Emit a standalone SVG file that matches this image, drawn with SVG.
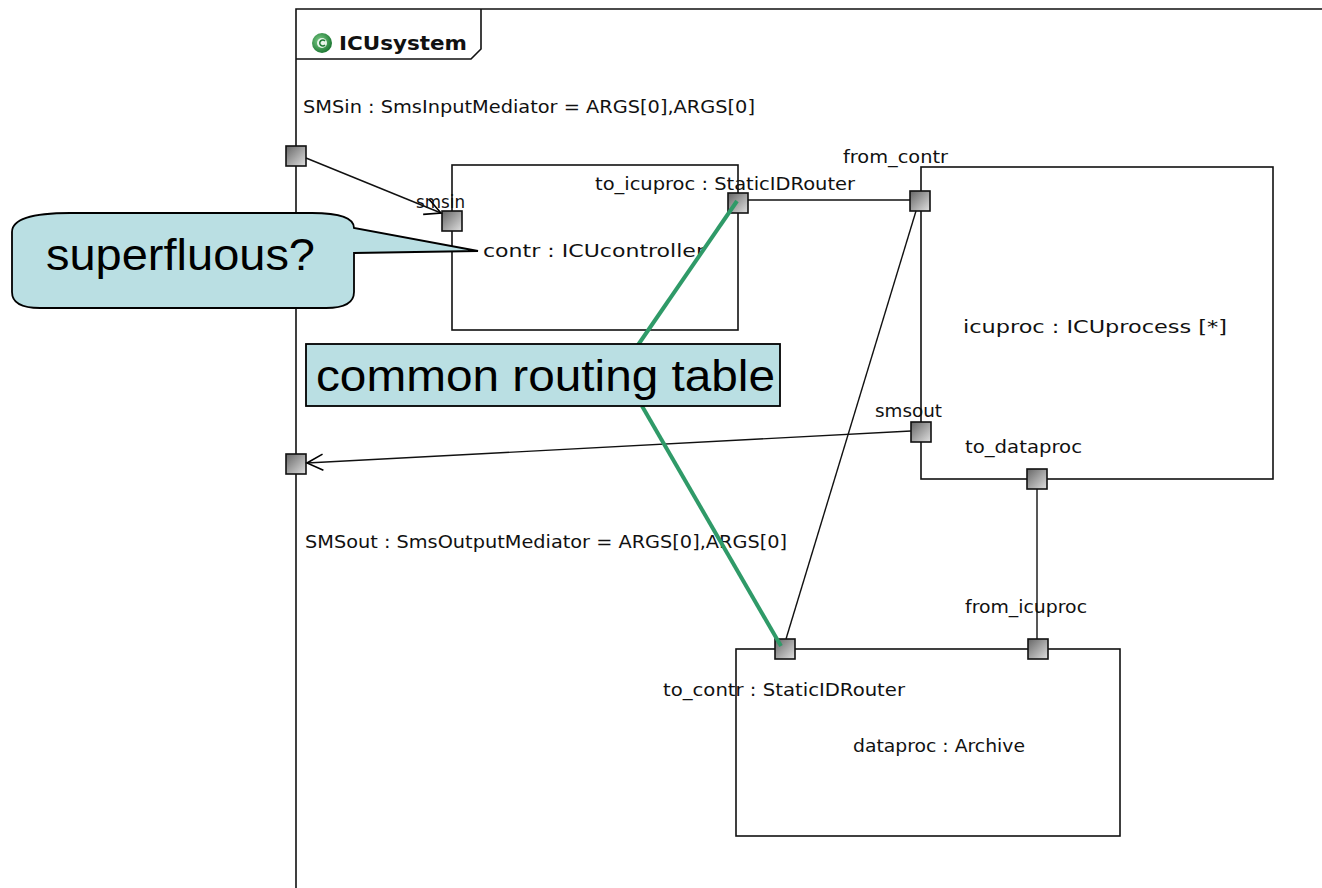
<svg xmlns="http://www.w3.org/2000/svg" width="1322" height="888" viewBox="0 0 1322 888">
<defs>
<linearGradient id="pg" x1="0" y1="0" x2="1" y2="1">
<stop offset="0" stop-color="#666"/>
<stop offset="1" stop-color="#e0e0e0"/>
</linearGradient>
<radialGradient id="ig" cx="0.4" cy="0.4" r="0.6">
<stop offset="0" stop-color="#7fcf8a"/>
<stop offset="1" stop-color="#1f7a35"/>
</radialGradient>
<marker id="open" viewBox="0 0 20 20" refX="18" refY="10" markerWidth="20" markerHeight="20" markerUnits="userSpaceOnUse" orient="auto">
<path d="M2,2 L18,10 L2,18" fill="none" stroke="#000" stroke-width="1.6"/>
</marker>
<style>
.lbl{font-family:"DejaVu Sans","Liberation Sans",sans-serif;font-size:18px;fill:#111}
.box{fill:none;stroke:#111;stroke-width:1.6}
.port{fill:url(#pg);stroke:#111;stroke-width:1.6}
.con{fill:none;stroke:#111;stroke-width:1.4}
.green{fill:none;stroke:#2f9a68;stroke-width:4}
.note{fill:#badfe3;stroke:#000;stroke-width:1.8}
.big{font-family:"Liberation Sans",Arial,sans-serif;font-size:44px;fill:#000}
</style>
</defs>
<rect width="1322" height="888" fill="#fff"/>

<g id="frame">
<path d="M296,888 L296,9 L1322,9" class="box" stroke-width="2"/>
<path d="M296,59 L471,59 L481,49 L481,9" class="box"/>
<circle cx="322" cy="43" r="10" fill="url(#ig)"/>
<circle cx="322" cy="43" r="5" fill="#e8f5ea"/>
<path d="M325,41 A3,3 0 1 0 325,45" fill="none" stroke="#1f7a35" stroke-width="1.5"/>
<text x="339" y="50" font-family="DejaVu Sans,Verdana,sans-serif" font-size="19" font-weight="bold" fill="#111" textLength="128" lengthAdjust="spacingAndGlyphs">ICUsystem</text>
<text class="lbl" x="303" y="113" textLength="452" lengthAdjust="spacingAndGlyphs">SMSin : SmsInputMediator = ARGS[0],ARGS[0]</text>
<text class="lbl" x="305" y="548" textLength="482" lengthAdjust="spacingAndGlyphs">SMSout : SmsOutputMediator = ARGS[0],ARGS[0]</text>
<rect id="SMSin" class="port" x="286" y="146" width="20" height="20"/>
<rect id="SMSout" class="port" x="286" y="454" width="20" height="20"/>
</g>

<g id="contr">
<rect class="box" x="452" y="165" width="286" height="165"/>
<text class="lbl" x="483" y="257" textLength="222" lengthAdjust="spacingAndGlyphs">contr : ICUcontroller</text>
<text class="lbl" x="416" y="208" textLength="49" lengthAdjust="spacingAndGlyphs">smsin</text>
<rect class="port" x="442" y="211" width="20" height="20"/>
<text class="lbl" x="595" y="190" textLength="260" lengthAdjust="spacingAndGlyphs">to_icuproc : StaticIDRouter</text>
<rect class="port" x="728" y="193" width="20" height="20"/>
</g>

<g id="icuproc">
<rect class="box" x="921" y="167" width="352" height="312"/>
<text class="lbl" x="963" y="333" textLength="264" lengthAdjust="spacingAndGlyphs">icuproc : ICUprocess [*]</text>
<text class="lbl" x="843" y="163" textLength="105" lengthAdjust="spacingAndGlyphs">from_contr</text>
<rect class="port" x="910" y="191" width="20" height="20"/>
<text class="lbl" x="875" y="417" textLength="67" lengthAdjust="spacingAndGlyphs">smsout</text>
<rect class="port" x="911" y="422" width="20" height="20"/>
<text class="lbl" x="965" y="453" textLength="117" lengthAdjust="spacingAndGlyphs">to_dataproc</text>
<rect class="port" x="1027" y="469" width="20" height="20"/>
</g>

<g id="dataproc">
<rect class="box" x="736" y="649" width="384" height="187"/>
<text class="lbl" x="853" y="752" textLength="172" lengthAdjust="spacingAndGlyphs">dataproc : Archive</text>
<text class="lbl" x="965" y="613" textLength="122" lengthAdjust="spacingAndGlyphs">from_icuproc</text>
<rect class="port" x="1028" y="639" width="20" height="20"/>
<text class="lbl" x="663" y="696" textLength="242" lengthAdjust="spacingAndGlyphs">to_contr : StaticIDRouter</text>
<rect class="port" x="775" y="639" width="20" height="20"/>
</g>

<g id="connectors">
<line class="con" x1="306" y1="158" x2="441" y2="213" marker-end="url(#open)"/>
<line class="con" x1="748" y1="200" x2="910" y2="200"/>
<line class="con" x1="1037" y1="489" x2="1037" y2="639"/>
<line class="con" x1="916" y1="211" x2="786" y2="639"/>
<line class="con" x1="911" y1="431" x2="307" y2="463" marker-end="url(#open)"/>
</g>

<g id="superfluous">
<path class="note" d="M70,213 L312,213 Q354,213 354,228 L478,251 L354,253 L354,292 Q354,308 326,308 L40,308 Q12,308 12,292 L12,232 Q12,213 70,213 Z"/>
<text class="big" x="46" y="270" textLength="269" lengthAdjust="spacingAndGlyphs">superfluous?</text>
</g>

<g id="routing">
<line class="green" x1="737" y1="201" x2="638" y2="345"/>
<line class="green" x1="642" y1="406" x2="781" y2="646"/>
<rect class="note" x="306" y="344" width="474" height="62" stroke-width="1.5"/>
<text class="big" x="316" y="391" textLength="459" lengthAdjust="spacingAndGlyphs">common routing table</text>
</g>
</svg>
